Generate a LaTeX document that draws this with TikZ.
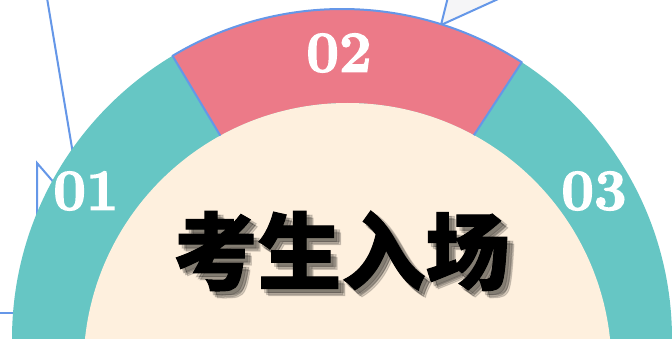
\documentclass[tikz,border=0pt]{standalone}
\usepackage{fontspec}
\newfontfamily\cjk{Noto Sans CJK SC}[BoldFeatures={FakeBold=1.2}]
\newfontfamily\numfont{Latin Modern Roman}[BoldFeatures={FakeBold=2.5}]
\usetikzlibrary{calc}
\definecolor{teal1}{HTML}{66C6C4}
\definecolor{pink1}{HTML}{EC7A88}
\definecolor{cream}{HTML}{FEF0DE}
\definecolor{blue1}{HTML}{6597E8}
\definecolor{grey1}{HTML}{F5F5F7}
\begin{document}
\begin{tikzpicture}[x=1pt,y=1pt,
  bl/.style={draw=blue1,line width=2pt},
  num/.style={text=white,font=\numfont\bfseries\fontsize{58}{58}\selectfont,inner sep=0pt},
  title/.style={font=\cjk\bfseries\fontsize{84}{84}\selectfont,inner sep=0pt},
  shadowtxt/.style={title,text=black,opacity=0.15}]
\useasboundingbox (0,0) rectangle (672,338);
\clip (0,0) rectangle (672,338);
\fill[white] (0,0) rectangle (672,338);
\coordinate (O1) at (342,-1);
\coordinate (O2) at (347.5,-29);
% decorations behind the ring
\draw[bl] (47,340) -- (74,178);
\draw[bl] (37,113) -- (37,175) -- (56,153);
\draw[bl] (-2,25) -- (20,25);
\filldraw[bl,fill=grey1,line join=round] (441,313) -- (448.5,343) -- (507,343) -- cycle;
% ring
\fill[teal1] (O1) circle (330);
\fill[pink1] ($(O1)+(120.9:330)$) arc[start angle=120.9,end angle=57,radius=330]
  -- ($(O2)+(61.4:264)$) arc[start angle=61.4,end angle=118.8,radius=264] -- cycle;
\fill[cream] (O2) circle (264);
\draw[bl,line join=round] ($(O2)+(118.8:264)$) -- ($(O1)+(120.9:330)$)
  arc[start angle=120.9,end angle=57,radius=330] -- ($(O2)+(61.4:264)$);
% numbers
\node[num] (n1) at (86,147) {01};
\node[num] (n2) at (339,285) {02};
\node[num] (n3) at (594,147) {03};
% title with soft shadow
\foreach \dx/\dy in {3/-4,5/-6,7/-7,6/-4}{
  \node[shadowtxt] at ($(341.5,87)+(\dx,\dy)$) {考生入场};
}
\node[title] (t) at (341.5,87) {考生入场};
\end{tikzpicture}
\end{document}
